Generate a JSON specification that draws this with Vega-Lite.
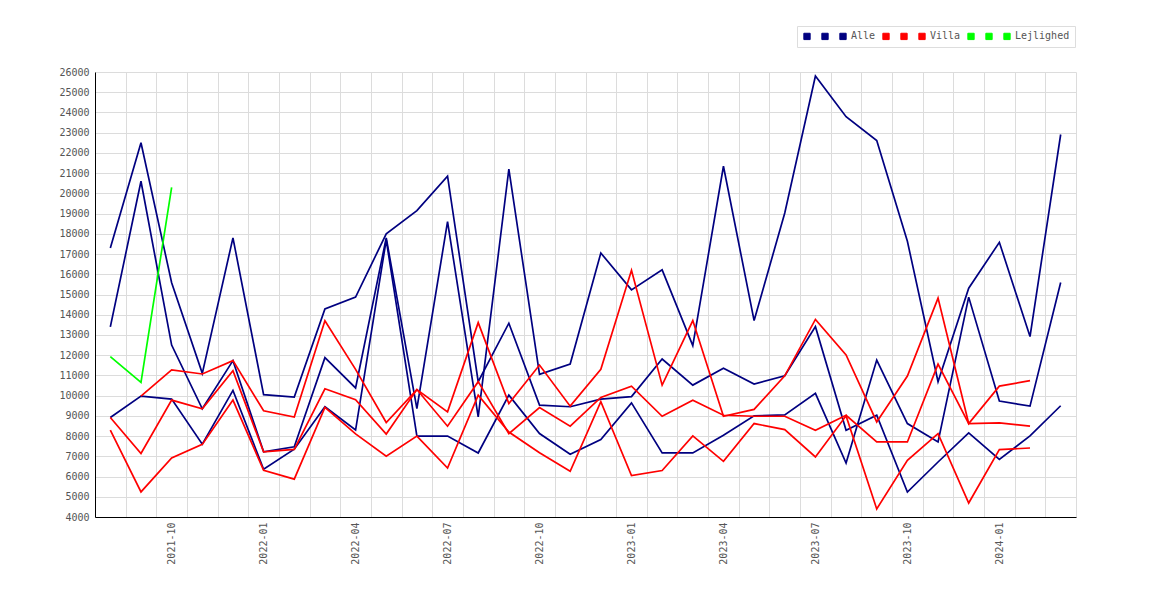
{
  "$schema": "https://vega.github.io/schema/vega-lite/v6.json",
  "width": 981,
  "height": 445,
  "autosize": "none",
  "padding": {"left": 95, "top": 72, "right": 94, "bottom": 83},
  "background": "white",
  "config": {
    "view": {"stroke": null},
    "font": "DejaVu Sans Mono"
  },
  "data": {
    "values": [
      {"m":"2021-08","s":"Alle_1","v":17300},{"m":"2021-09","s":"Alle_1","v":22500},{"m":"2021-10","s":"Alle_1","v":15580},{"m":"2021-11","s":"Alle_1","v":11100},
      {"m":"2021-12","s":"Alle_1","v":17800},{"m":"2022-01","s":"Alle_1","v":10050},{"m":"2022-02","s":"Alle_1","v":9930},{"m":"2022-03","s":"Alle_1","v":14290},
      {"m":"2022-04","s":"Alle_1","v":14870},{"m":"2022-05","s":"Alle_1","v":18000},{"m":"2022-06","s":"Alle_1","v":19150},{"m":"2022-07","s":"Alle_1","v":20850},
      {"m":"2022-08","s":"Alle_1","v":10690},{"m":"2022-09","s":"Alle_1","v":13580},{"m":"2022-10","s":"Alle_1","v":9530},{"m":"2022-11","s":"Alle_1","v":9450},
      {"m":"2022-12","s":"Alle_1","v":9830},{"m":"2023-01","s":"Alle_1","v":9950},{"m":"2023-02","s":"Alle_1","v":11810},{"m":"2023-03","s":"Alle_1","v":10520},
      {"m":"2023-04","s":"Alle_1","v":11350},{"m":"2023-05","s":"Alle_1","v":10570},{"m":"2023-06","s":"Alle_1","v":10980},{"m":"2023-07","s":"Alle_1","v":13410},
      {"m":"2023-08","s":"Alle_1","v":8290},{"m":"2023-09","s":"Alle_1","v":9030},{"m":"2023-10","s":"Alle_1","v":5230},{"m":"2023-11","s":"Alle_1","v":6720},
      {"m":"2023-12","s":"Alle_1","v":8160},{"m":"2024-01","s":"Alle_1","v":6850},{"m":"2024-02","s":"Alle_1","v":8010},{"m":"2024-03","s":"Alle_1","v":9500},

      {"m":"2021-08","s":"Alle_2","v":13400},{"m":"2021-09","s":"Alle_2","v":20600},{"m":"2021-10","s":"Alle_2","v":12500},{"m":"2021-11","s":"Alle_2","v":9350},
      {"m":"2021-12","s":"Alle_2","v":11730},{"m":"2022-01","s":"Alle_2","v":7220},{"m":"2022-02","s":"Alle_2","v":7470},{"m":"2022-03","s":"Alle_2","v":11880},
      {"m":"2022-04","s":"Alle_2","v":10380},{"m":"2022-05","s":"Alle_2","v":17800},{"m":"2022-06","s":"Alle_2","v":9360},{"m":"2022-07","s":"Alle_2","v":18600},
      {"m":"2022-08","s":"Alle_2","v":8950},{"m":"2022-09","s":"Alle_2","v":21200},{"m":"2022-10","s":"Alle_2","v":11050},{"m":"2022-11","s":"Alle_2","v":11560},
      {"m":"2022-12","s":"Alle_2","v":17050},{"m":"2023-01","s":"Alle_2","v":15230},{"m":"2023-02","s":"Alle_2","v":16220},{"m":"2023-03","s":"Alle_2","v":12470},
      {"m":"2023-04","s":"Alle_2","v":21340},{"m":"2023-05","s":"Alle_2","v":13710},{"m":"2023-06","s":"Alle_2","v":19030},{"m":"2023-07","s":"Alle_2","v":25800},
      {"m":"2023-08","s":"Alle_2","v":23790},{"m":"2023-09","s":"Alle_2","v":22610},{"m":"2023-10","s":"Alle_2","v":17630},{"m":"2023-11","s":"Alle_2","v":10690},
      {"m":"2023-12","s":"Alle_2","v":15310},{"m":"2024-01","s":"Alle_2","v":17580},{"m":"2024-02","s":"Alle_2","v":12920},{"m":"2024-03","s":"Alle_2","v":22910},

      {"m":"2021-08","s":"Alle","v":8920},{"m":"2021-09","s":"Alle","v":9980},{"m":"2021-10","s":"Alle","v":9830},{"m":"2021-11","s":"Alle","v":7600},
      {"m":"2021-12","s":"Alle","v":10260},{"m":"2022-01","s":"Alle","v":6360},{"m":"2022-02","s":"Alle","v":7350},{"m":"2022-03","s":"Alle","v":9450},
      {"m":"2022-04","s":"Alle","v":8300},{"m":"2022-05","s":"Alle","v":17700},{"m":"2022-06","s":"Alle","v":8000},{"m":"2022-07","s":"Alle","v":8000},
      {"m":"2022-08","s":"Alle","v":7165},{"m":"2022-09","s":"Alle","v":10025},{"m":"2022-10","s":"Alle","v":8125},{"m":"2022-11","s":"Alle","v":7100},
      {"m":"2022-12","s":"Alle","v":7830},{"m":"2023-01","s":"Alle","v":9640},{"m":"2023-02","s":"Alle","v":7170},{"m":"2023-03","s":"Alle","v":7170},
      {"m":"2023-04","s":"Alle","v":8040},{"m":"2023-05","s":"Alle","v":9000},{"m":"2023-06","s":"Alle","v":9050},{"m":"2023-07","s":"Alle","v":10110},
      {"m":"2023-08","s":"Alle","v":6670},{"m":"2023-09","s":"Alle","v":11760},{"m":"2023-10","s":"Alle","v":8620},{"m":"2023-11","s":"Alle","v":7710},
      {"m":"2023-12","s":"Alle","v":14870},{"m":"2024-01","s":"Alle","v":9730},{"m":"2024-02","s":"Alle","v":9480},{"m":"2024-03","s":"Alle","v":15590},

      {"m":"2021-09","s":"Villa_1","v":9980},{"m":"2021-10","s":"Villa_1","v":11270},{"m":"2021-11","s":"Villa_1","v":11070},
      {"m":"2021-12","s":"Villa_1","v":11730},{"m":"2022-01","s":"Villa_1","v":9250},{"m":"2022-02","s":"Villa_1","v":8940},{"m":"2022-03","s":"Villa_1","v":13700},
      {"m":"2022-04","s":"Villa_1","v":11300},{"m":"2022-05","s":"Villa_1","v":8670},{"m":"2022-06","s":"Villa_1","v":10300},{"m":"2022-07","s":"Villa_1","v":9200},
      {"m":"2022-08","s":"Villa_1","v":13610},{"m":"2022-09","s":"Villa_1","v":9610},{"m":"2022-10","s":"Villa_1","v":11510},{"m":"2022-11","s":"Villa_1","v":9480},
      {"m":"2022-12","s":"Villa_1","v":11300},{"m":"2023-01","s":"Villa_1","v":16200},{"m":"2023-02","s":"Villa_1","v":10520},{"m":"2023-03","s":"Villa_1","v":13710},
      {"m":"2023-04","s":"Villa_1","v":8980},{"m":"2023-05","s":"Villa_1","v":9320},{"m":"2023-06","s":"Villa_1","v":10980},{"m":"2023-07","s":"Villa_1","v":13770},
      {"m":"2023-08","s":"Villa_1","v":12010},{"m":"2023-09","s":"Villa_1","v":8700},{"m":"2023-10","s":"Villa_1","v":10970},{"m":"2023-11","s":"Villa_1","v":14820},
      {"m":"2023-12","s":"Villa_1","v":8620},{"m":"2024-01","s":"Villa_1","v":10470},{"m":"2024-02","s":"Villa_1","v":10740},

      {"m":"2021-08","s":"Villa_2","v":8920},{"m":"2021-09","s":"Villa_2","v":7140},{"m":"2021-10","s":"Villa_2","v":9780},{"m":"2021-11","s":"Villa_2","v":9350},
      {"m":"2021-12","s":"Villa_2","v":11230},{"m":"2022-01","s":"Villa_2","v":7220},{"m":"2022-02","s":"Villa_2","v":7340},{"m":"2022-03","s":"Villa_2","v":10340},
      {"m":"2022-04","s":"Villa_2","v":9800},{"m":"2022-05","s":"Villa_2","v":8100},{"m":"2022-06","s":"Villa_2","v":10300},{"m":"2022-07","s":"Villa_2","v":8490},
      {"m":"2022-08","s":"Villa_2","v":10690},{"m":"2022-09","s":"Villa_2","v":8120},{"m":"2022-10","s":"Villa_2","v":9410},{"m":"2022-11","s":"Villa_2","v":8490},
      {"m":"2022-12","s":"Villa_2","v":9910},{"m":"2023-01","s":"Villa_2","v":10470},{"m":"2023-02","s":"Villa_2","v":8980},{"m":"2023-03","s":"Villa_2","v":9770},
      {"m":"2023-04","s":"Villa_2","v":9030},{"m":"2023-05","s":"Villa_2","v":8980},{"m":"2023-06","s":"Villa_2","v":8980},{"m":"2023-07","s":"Villa_2","v":8290},
      {"m":"2023-08","s":"Villa_2","v":9030},{"m":"2023-09","s":"Villa_2","v":7710},{"m":"2023-10","s":"Villa_2","v":7710},{"m":"2023-11","s":"Villa_2","v":11560},
      {"m":"2023-12","s":"Villa_2","v":8620},{"m":"2024-01","s":"Villa_2","v":8650},{"m":"2024-02","s":"Villa_2","v":8490},

      {"m":"2021-08","s":"Villa","v":8300},{"m":"2021-09","s":"Villa","v":5240},{"m":"2021-10","s":"Villa","v":6920},{"m":"2021-11","s":"Villa","v":7590},
      {"m":"2021-12","s":"Villa","v":9780},{"m":"2022-01","s":"Villa","v":6310},{"m":"2022-02","s":"Villa","v":5870},{"m":"2022-03","s":"Villa","v":9420},
      {"m":"2022-04","s":"Villa","v":8110},{"m":"2022-05","s":"Villa","v":7010},{"m":"2022-06","s":"Villa","v":8000},{"m":"2022-07","s":"Villa","v":6420},
      {"m":"2022-08","s":"Villa","v":10025},{"m":"2022-09","s":"Villa","v":8200},{"m":"2022-10","s":"Villa","v":7180},{"m":"2022-11","s":"Villa","v":6260},
      {"m":"2022-12","s":"Villa","v":9700},{"m":"2023-01","s":"Villa","v":6050},{"m":"2023-02","s":"Villa","v":6300},{"m":"2023-03","s":"Villa","v":8010},
      {"m":"2023-04","s":"Villa","v":6750},{"m":"2023-05","s":"Villa","v":8620},{"m":"2023-06","s":"Villa","v":8320},{"m":"2023-07","s":"Villa","v":6970},
      {"m":"2023-08","s":"Villa","v":9000},{"m":"2023-09","s":"Villa","v":4400},{"m":"2023-10","s":"Villa","v":6800},{"m":"2023-11","s":"Villa","v":8120},
      {"m":"2023-12","s":"Villa","v":4690},{"m":"2024-01","s":"Villa","v":7330},{"m":"2024-02","s":"Villa","v":7410},

      {"m":"2021-08","s":"Lejlighed","v":11930},{"m":"2021-09","s":"Lejlighed","v":10660},{"m":"2021-10","s":"Lejlighed","v":20300}
    ]
  },
  "mark": {"type": "line", "strokeWidth": 1.7},
  "encoding": {
    "x": {
      "field": "m",
      "type": "ordinal",
      "scale": {"type": "band", "paddingInner": 0, "paddingOuter": 0},
      "axis": {
        "title": null,
        "grid": true,
        "gridColor": "#dcdcdc",
        "tickBand": "extent",
        "ticks": false,
        "domainColor": "black",
        "labelAngle": -90,
        "labelPadding": 5,
        "labelOverlap": false,
        "labelFont": "DejaVu Sans Mono",
        "labelFontSize": 10,
        "labelColor": "#555",
        "labelExpr": "test(/-(01|04|07|10)$/, datum.value) ? datum.value : ''"
      }
    },
    "y": {
      "field": "v",
      "type": "quantitative",
      "scale": {"domain": [4000, 26000], "nice": false, "zero": false},
      "axis": {
        "title": null,
        "values": [4000,5000,6000,7000,8000,9000,10000,11000,12000,13000,14000,15000,16000,17000,18000,19000,20000,21000,22000,23000,24000,25000,26000],
        "format": "d",
        "grid": true,
        "gridColor": "#dcdcdc",
        "ticks": false,
        "domainColor": "black",
        "labelPadding": 6,
        "labelFont": "DejaVu Sans Mono",
        "labelFontSize": 10,
        "labelColor": "#555"
      }
    },
    "color": {
      "field": "s",
      "type": "nominal",
      "scale": {
        "domain": ["Alle_1","Alle_2","Alle","Villa_1","Villa_2","Villa","Lejlighed_1","Lejlighed_2","Lejlighed"],
        "range": ["#000080","#000080","#000080","#ff0000","#ff0000","#ff0000","#00ff00","#00ff00","#00ff00"]
      },
      "legend": {
        "title": null,
        "orient": "none",
        "legendX": 702,
        "legendY": -46,
        "direction": "horizontal",
        "symbolType": "square",
        "symbolSize": 40,
        "symbolStrokeWidth": 1,
        "labelFont": "DejaVu Sans Mono",
        "labelFontSize": 10,
        "labelColor": "#555",
        "labelOffset": 3,
        "columnPadding": 4,
        "padding": 5,
        "strokeColor": "#dddddd",
        "labelExpr": "test(/_/, datum.label) ? ' ' : datum.label",
        "encode": {
          "symbols": {
            "update": {
              "fill": {"scale": "color", "field": "value"},
              "fillOpacity": {"value": 1},
              "stroke": {"value": "#666666"}
            }
          }
        }
      }
    }
  }
}
